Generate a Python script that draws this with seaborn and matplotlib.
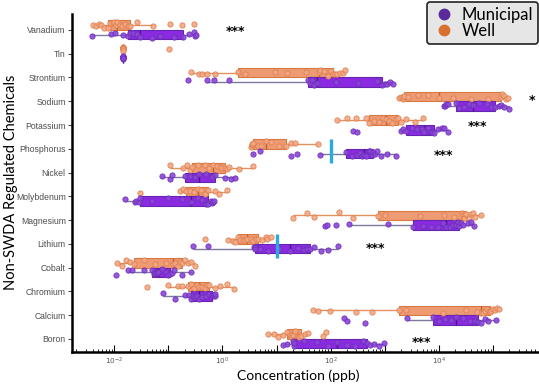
import numpy as np
import pandas as pd
import matplotlib
matplotlib.use("Agg")
import matplotlib.pyplot as plt
import seaborn as sns
from matplotlib.lines import Line2D
from matplotlib.ticker import FixedLocator, FuncFormatter, LogLocator, NullFormatter

# ---------------- data (log10 of concentration in ppb) ----------------
chemicals = ["Vanadium", "Tin", "Strontium", "Sodium", "Potassium", "Phosphorus", "Nickel",
             "Molybdenum", "Magnesium", "Lithium", "Cobalt", "Chromium", "Calcium", "Boron"]
source_order = ["Well", "Municipal"]

vanadium_well = [-2.39, -2.33, -2.28, -2.24, -2.19, -2.11, -2.07, -2.03, -2.00, -1.97, -1.94,
                 -1.90, -1.85, -1.80, -1.75, -1.70, -1.57, -1.28, -0.96, -0.74, -0.52]
vanadium_municipal = [-2.41, -2.06, -1.98, -1.83, -1.74, -1.70, -1.65, -1.58, -1.52, -1.30, -1.15,
                      -0.90, -0.72, -0.61, -0.52, -0.50, -0.48]
tin_well = [-1.83, -1.83, -1.83, -1.83, -1.83, -1.83, -1.83, -1.83, -0.98]
tin_municipal = [-1.83, -1.83, -1.83, -1.83, -1.83, -1.83, -1.83, -1.83]
strontium_well = [-0.59, -0.43, -0.37, -0.28, -0.13, 0.28, 0.41, 0.98, 1.20, 1.55, 1.78,
                  1.81, 1.88, 1.95, 2.00, 2.04, 2.08, 2.12, 2.18, 2.23, 2.26]
strontium_municipal = [-0.63, -0.28, -0.15, 0.13, 1.59, 1.62, 1.66, 1.70, 1.74, 2.10, 2.50,
                       2.85, 2.94, 3.00, 3.05, 3.10, 3.15]
sodium_well = [3.26, 3.30, 3.33, 3.34, 3.35, 3.43, 3.61, 3.80, 4.00, 4.26, 4.59, 4.90, 5.15,
               5.17, 5.20, 5.24, 5.28]
sodium_municipal = [4.09, 4.11, 4.13, 4.17, 4.31, 4.38, 4.47, 4.56, 4.63, 4.75, 4.88, 4.97,
                    5.04, 5.11, 5.15, 5.20, 5.30]
potassium_well = [2.11, 2.30, 2.46, 2.65, 2.70, 2.80, 2.90, 2.97, 3.02, 3.08, 3.13, 3.20, 3.24,
                  3.30, 3.40, 3.55, 3.70]
potassium_municipal = [2.41, 2.48, 3.30, 3.33, 3.39, 3.50, 3.60, 3.68, 3.72, 3.80, 3.85, 3.88,
                       3.91, 3.98, 4.05, 4.09, 4.17]
phosphorus_well = [0.52, 0.54, 0.55, 0.56, 0.65, 0.72, 0.80, 0.90, 1.05, 1.17, 1.26, 1.35, 1.76]
phosphorus_municipal = [0.57, 0.70, 1.26, 1.37, 1.81, 2.28, 2.40, 2.48, 2.54, 2.58, 2.61, 2.65,
                        2.70, 2.73, 2.76, 2.78, 2.82, 2.86, 2.93, 3.05, 3.20]
nickel_well = [-0.96, -0.72, -0.65, -0.60, -0.56, -0.45, -0.33, -0.24, -0.17, -0.10, -0.04,
               0.00, 0.04, 0.09, 0.13, 0.30, 0.57]
nickel_municipal = [-1.11, -0.96, -0.94, -0.70, -0.60, -0.50, -0.44, -0.30, -0.20, -0.13,
                    0.04, 0.15, 0.24]
molybdenum_well = [-1.52, -0.78, -0.72, -0.67, -0.60, -0.52, -0.46, -0.40, -0.32, -0.26,
                   -0.13, -0.07, 0.09]
molybdenum_municipal = [-1.80, -1.61, -1.59, -1.55, -1.52, -1.30, -1.00, -0.75, -0.59, -0.45,
                        -0.38, -0.30, -0.26, -0.22, -0.20, -0.17, -0.15]
magnesium_well = [1.31, 1.57, 1.69, 2.15, 2.41, 2.87, 3.00, 3.65, 4.10, 4.28, 4.43, 4.44, 4.46,
                  4.47, 4.49, 4.50, 4.55, 4.59, 4.63, 4.67, 4.78]
magnesium_municipal = [1.89, 1.93, 2.09, 2.33, 3.06, 3.52, 3.70, 3.85, 3.98, 4.07, 4.13, 4.20,
                       4.26, 4.31, 4.35, 4.37, 4.40, 4.44, 4.54, 4.59, 4.65]
lithium_well = [-0.33, 0.11, 0.19, 0.24, 0.28, 0.33, 0.38, 0.42, 0.46, 0.52, 0.57, 0.62, 0.65,
                0.74, 0.80, 0.83, 0.89]
lithium_municipal = [-0.54, -0.26, 0.58, 0.60, 0.61, 0.70, 0.85, 1.05, 1.24, 1.40, 1.50, 1.57,
                     1.61, 1.70, 1.83, 1.96, 2.13]
cobalt_well = [-1.94, -1.85, -1.78, -1.70, -1.63, -1.45, -1.25, -1.05, -0.91, -0.87, -0.82,
               -0.78, -0.74, -0.69, -0.64, -0.59, -0.50]
cobalt_municipal = [-1.96, -1.74, -1.67, -1.45, -1.30, -1.27, -1.24, -1.21, -1.19, -1.12, -1.05,
                    -1.00, -0.96, -0.93, -0.89, -0.75, -0.59]
chromium_well = [-1.39, -1.00, -0.83, -0.74, -0.63, -0.58, -0.52, -0.47, -0.43, -0.37, -0.32,
                 -0.28, -0.24, -0.13, -0.04, 0.09, 0.22]
chromium_municipal = [-1.09, -0.87, -0.69, -0.62, -0.59, -0.55, -0.50, -0.47, -0.44, -0.38,
                      -0.30, -0.24, -0.20, -0.18, -0.16, -0.14, -0.13]
calcium_well = [1.67, 1.76, 1.98, 2.46, 2.76, 3.26, 3.39, 4.07, 4.50, 4.70, 4.78, 4.82, 4.86,
                4.89, 4.92, 4.94, 4.97, 5.00, 5.03, 5.07, 5.11]
calcium_municipal = [2.24, 2.30, 2.63, 3.41, 3.89, 4.00, 4.12, 4.22, 4.31, 4.45, 4.58, 4.66,
                     4.72, 4.78, 4.85, 4.91, 5.06]
boron_well = [0.84, 0.96, 1.02, 1.11, 1.20, 1.24, 1.27, 1.29, 1.31, 1.35, 1.39, 1.42, 1.45,
              1.52, 1.59, 1.85, 1.91]
boron_municipal = [1.11, 1.20, 1.30, 1.32, 1.33, 1.50, 1.75, 1.95, 2.11, 2.30, 2.45, 2.60, 2.67,
                   2.72, 2.80, 2.90, 2.98]

# reference levels (ppb) drawn as blue bars
ref_chems = ["Phosphorus", "Lithium"]
ref_ppb = [100, 10]

# significance labels (log10 ppb position)
sig_chems = ["Vanadium", "Sodium", "Potassium", "Phosphorus", "Lithium", "Boron"]
sig_labels = ["***", "*", "***", "***", "***", "***"]
sig_log10 = [0.25, 5.72, 4.72, 4.08, 2.83, 3.67]
sig_dy = [0.05, -0.05, 0.05, 0.25, 0.17, 0.13]

# ---------------- table ----------------
groups = {
    ("Vanadium", "Well"): vanadium_well, ("Vanadium", "Municipal"): vanadium_municipal,
    ("Tin", "Well"): tin_well, ("Tin", "Municipal"): tin_municipal,
    ("Strontium", "Well"): strontium_well, ("Strontium", "Municipal"): strontium_municipal,
    ("Sodium", "Well"): sodium_well, ("Sodium", "Municipal"): sodium_municipal,
    ("Potassium", "Well"): potassium_well, ("Potassium", "Municipal"): potassium_municipal,
    ("Phosphorus", "Well"): phosphorus_well, ("Phosphorus", "Municipal"): phosphorus_municipal,
    ("Nickel", "Well"): nickel_well, ("Nickel", "Municipal"): nickel_municipal,
    ("Molybdenum", "Well"): molybdenum_well, ("Molybdenum", "Municipal"): molybdenum_municipal,
    ("Magnesium", "Well"): magnesium_well, ("Magnesium", "Municipal"): magnesium_municipal,
    ("Lithium", "Well"): lithium_well, ("Lithium", "Municipal"): lithium_municipal,
    ("Cobalt", "Well"): cobalt_well, ("Cobalt", "Municipal"): cobalt_municipal,
    ("Chromium", "Well"): chromium_well, ("Chromium", "Municipal"): chromium_municipal,
    ("Calcium", "Well"): calcium_well, ("Calcium", "Municipal"): calcium_municipal,
    ("Boron", "Well"): boron_well, ("Boron", "Municipal"): boron_municipal,
}
rows = []
for (chem, src), vals in groups.items():
    for v in vals:
        rows.append({"chem": chem, "source": src, "ppb": 10.0 ** v})
df = pd.DataFrame(rows)

# ---------------- style ----------------
plt.rcParams['font.family'] = ['Lato', 'DejaVu Sans']
box_face = {"Well": "#EE9B74", "Municipal": "#8A2BE2"}
box_edge = {"Well": "#DA7842", "Municipal": "#6526AE"}
med_col = {"Well": "#C45F28", "Municipal": "#45187E"}
whisk_col = {"Well": "#E59060", "Municipal": "#7D7A9E"}
pt_face = {"Well": "#F3A887", "Municipal": "#8D45D8"}
pt_edge = {"Well": "#DD7C48", "Municipal": "#6A2DB8"}

np.random.seed(3)
fig = plt.figure(figsize=(5.39, 3.85), dpi=100)
ax = fig.add_axes([72 / 539, 33 / 385, 467 / 539, 338 / 385])

sns.boxplot(data=df, x="ppb", y="chem", hue="source", order=chemicals, hue_order=source_order,
            palette=box_face, saturation=1, width=0.8, gap=0, whis=1.5, showfliers=False,
            showcaps=False, log_scale=True, linewidth=0.8, legend=False, ax=ax)

def side(y):
    return "Well" if (y - np.round(y)) < 0 else "Municipal"

for p in ax.patches:
    yv = p.get_path().vertices[:, 1]
    s = side(np.mean(yv))
    p.set_edgecolor(box_edge[s])
    p.set_linewidth(0.8)
for ln in ax.lines:
    yd = np.asarray(ln.get_ydata(), dtype=float)
    s = side(np.mean(yd))
    if abs(yd[0] - yd[-1]) > 1e-6:
        ln.set_color(med_col[s]); ln.set_linewidth(1.0)
    else:
        ln.set_color(whisk_col[s]); ln.set_linewidth(1.0)

n_before = len(ax.collections)
sns.stripplot(data=df, x="ppb", y="chem", hue="source", order=chemicals, hue_order=source_order,
              palette=pt_face, dodge=True, jitter=0.26, size=3.8, linewidth=0.6,
              log_scale=True, legend=False, ax=ax)
for c in ax.collections[n_before:]:
    offs = c.get_offsets()
    if len(offs) == 0:
        continue
    s = side(np.mean(np.asarray(offs)[:, 1]))
    c.set_facecolor(pt_face[s])
    c.set_edgecolor(pt_edge[s])
    c.set_alpha(0.9)
    c.set_zorder(3)

# reference bars
for chem, val in zip(ref_chems, ref_ppb):
    i = chemicals.index(chem)
    ax.plot([val, val], [i - 0.42, i + 0.58], color="#2AAAE0", lw=2.4, zorder=4,
            solid_capstyle="butt")

# significance stars
for chem, lab, lx, dy in zip(sig_chems, sig_labels, sig_log10, sig_dy):
    i = chemicals.index(chem)
    ax.text(10 ** lx, i + dy + 0.02, lab, ha="center", va="center", fontsize=9,
            fontweight="bold", family="DejaVu Sans", color="black", zorder=5)

ax.set_xlim(10 ** -2.78, 10 ** 5.85)
ax.set_ylim(13.55, -0.67)

# axes
for sp in ["top", "right"]:
    ax.spines[sp].set_visible(False)
for sp in ["left", "bottom"]:
    ax.spines[sp].set_linewidth(1.8)
    ax.spines[sp].set_color("black")

ax.set_yticks(range(len(chemicals)))
ax.set_yticklabels(chemicals, family="Liberation Sans", fontsize=6.2, color="#4D4D4D")
ax.tick_params(axis="y", length=3, width=0.8, color="#4D4D4D", pad=1.5)

major = [10.0 ** k for k in range(-2, 6)]
ax.xaxis.set_major_locator(FixedLocator(major))
ax.xaxis.set_major_formatter(FuncFormatter(
    lambda v, p: (r"$10^{%d}$" % int(round(np.log10(v)))) if int(round(np.log10(v))) % 2 == 0 else ""))
ax.xaxis.set_minor_locator(LogLocator(base=10, subs=np.arange(2, 10), numticks=100))
ax.xaxis.set_minor_formatter(NullFormatter())
ax.tick_params(axis="x", which="major", direction="in", length=5, width=0.8, labelsize=5.2,
               labelcolor="#555555", pad=3)
ax.tick_params(axis="x", which="minor", direction="in", length=2.5, width=0.6)
ax.set_xlabel("")
ax.set_ylabel("")

fig.text(298 / 539, 1 - 376 / 385, "Concentration (ppb)", ha="center", va="center", fontsize=10)
fig.text(11 / 539, 1 - 182 / 385, "Non-SWDA Regulated Chemicals", ha="center", va="center",
         rotation=90, fontsize=10.5)

handles = [Line2D([], [], marker="o", ls="", color="#5B2A9A", markersize=7.5, label="Municipal"),
           Line2D([], [], marker="o", ls="", color="#D9702F", markersize=7.5, label="Well")]
leg = fig.legend(handles=handles, loc="upper right", bbox_to_anchor=(538 / 539, 383 / 385),
                 frameon=True, fancybox=True, fontsize=12, handletextpad=0.3, borderpad=0.3,
                 labelspacing=0.0, handlelength=1.5, borderaxespad=0)
fr = leg.get_frame()
fr.set_facecolor("#E6E6E6"); fr.set_edgecolor("#222222"); fr.set_linewidth(1.2); fr.set_alpha(1)

fig.savefig("out.png", dpi=100)
